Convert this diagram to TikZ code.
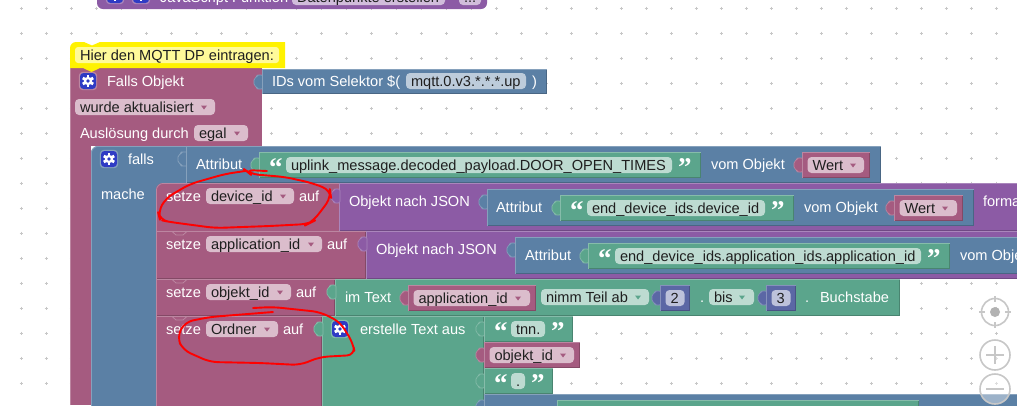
\documentclass[tikz,border=0pt]{standalone}
\usepackage{fontspec}
\setmainfont{Liberation Sans}
\newfontfamily\qfont{Liberation Serif}
\definecolor{pk}{HTML}{A55B80}\definecolor{pkL}{HTML}{BC86A1}\definecolor{pkD}{HTML}{844966}\definecolor{pkF}{HTML}{DBBDCC}
\definecolor{bl}{HTML}{5B80A5}\definecolor{blL}{HTML}{86A1BC}\definecolor{blD}{HTML}{496684}\definecolor{blF}{HTML}{BDCCDB}
\definecolor{gr}{HTML}{5BA58C}\definecolor{grL}{HTML}{86BCAA}\definecolor{grD}{HTML}{498470}\definecolor{grF}{HTML}{BDDBD1}
\definecolor{pu}{HTML}{8C5BA5}\definecolor{puL}{HTML}{AA86BC}\definecolor{puD}{HTML}{704984}\definecolor{puF}{HTML}{D1BDDB}
\definecolor{nu}{HTML}{5B67A5}\definecolor{nuL}{HTML}{8691BC}\definecolor{nuD}{HTML}{495284}\definecolor{nuF}{HTML}{BDC2DB}
\definecolor{gearblue}{HTML}{2F3BC4}
\newcounter{nn}
\tikzset{
  txt/.style={anchor=base west,inner sep=0pt,outer sep=0pt,font=\fontsize{14.6}{16}\selectfont},
  wtxt/.style={txt,text=white},
  dtxt/.style={txt,text=black!88},
  qt/.style={anchor=base west,inner sep=0pt,outer sep=0pt,text=white,font=\qfont\bfseries\fontsize{27}{27}\selectfont},
  scribble/.style={red,line width=1.9pt,line cap=round,line join=round,rounded corners=8pt},
}
\newcommand{\bk}[5]{%
  \fill[#1] (#2,#3) rectangle (#4,#5);
  \draw[#1D,line width=.7pt] (#4-.4,#3) -- (#4-.4,#5-.4) -- (#2,#5-.4);
  \draw[#1L,line width=.8pt] (#2+.4,#5) -- (#2+.4,#3+.4) -- (#4,#3+.4);
}
\newcommand{\tabpath}[2]{(#1+1,#2) -- (#1-5,#2) -- (#1-5,#2+2) -- (#1-8,#2+3.5) -- (#1-8,#2+10.5) -- (#1-5,#2+12) -- (#1-5,#2+14) -- (#1+1,#2+14)}
\newcommand{\tb}[3]{%
  \path[fill=#1,draw=#1L,line width=.6pt,rounded corners=1.5pt] \tabpath{#2}{#3} -- cycle;
}
\newcommand{\tbo}[3]{%
  \draw[#1,line width=.8pt,rounded corners=1.5pt] \tabpath{#2}{#3};
}
\newcommand{\tx}[4]{\stepcounter{nn}\node[#1] (t\thenn) at (#2,#3) {#4};}
\newcommand{\fld}[6]{%
  \fill[#1F,rounded corners=4pt] (#2,#3) rectangle (#4,#3+16);
  \tx{dtxt}{#2+5}{#3+13}{#5}
  \if\relax\detokenize{#6}\relax\else
    \fill[#1] (#6-3,#3+6.5) -- (#6+3,#3+6.5) -- (#6,#3+10.5) -- cycle;
  \fi
}
\newcommand{\gear}[3]{%
  \fill[#1L,rounded corners=4pt] (#2-9.2,#3-9.2) rectangle (#2+9.2,#3+9.2);
  \fill[gearblue,rounded corners=3.5pt] (#2-8,#3-8) rectangle (#2+8,#3+8);
  \fill[white] (#2,#3) circle (4.2);
  \foreach \a in {0,60,...,300}{\fill[white,rotate around={\a:(#2,#3)}] (#2-1.4,#3-6) rectangle (#2+1.4,#3-3);}
  \fill[gearblue] (#2,#3) circle (1.9);
}
\newcommand{\ql}[2]{\tx{qt}{#1}{#2}{“}}
\newcommand{\qr}[2]{\tx{qt}{#1}{#2}{”}}
\newcommand{\strb}[7]{%
  \tb{gr}{#1}{#2+6}
  \bk{gr}{#1}{#2}{#3}{#2+26}
  \ql{#1+10}{#2+24}
  \fld{gr}{#4}{#2+5}{#5}{#6}{}
  \qr{#7}{#2+24}
}
\newcommand{\varb}[5]{%
  \tb{pk}{#1}{#2+6}
  \bk{pk}{#1}{#2}{#3}{#2+26}
  \fld{pk}{#1+5.5}{#2+5}{#3-6}{#4}{#5}
}
\newcommand{\numb}[4]{%
  \tb{nu}{#1}{#2+6}
  \bk{nu}{#1}{#2}{#3}{#2+26}
  \fill[nuF,rounded corners=4pt] (#1+5.5,#2+5) rectangle (#3-5.5,#2+21);
  \tx{dtxt}{#1+10.5}{#2+18}{#4}
}
\newcommand{\notchmark}[1]{\draw[pkL,line width=.8pt] (172,#1+.4) -- (176,#1+4) -- (183,#1+4) -- (187,#1+.4);}
\begin{document}
\begin{tikzpicture}[x=1pt,y=-1pt]
\clip (0,0) rectangle (1017,405);
\fill[white] (0,0) rectangle (1017,405);
% grid
\foreach \gx in {21,46,...,1017}{\foreach \gy in {8,33,...,405}{
  \draw[black!22,line width=.7pt] (\gx-1.5,\gy) -- (\gx+1.5,\gy) (\gx,\gy-1.5) -- (\gx,\gy+1.5);
}}
% top block
\fill[pu,rounded corners=6pt] (97,-10) -- (97,9) -- (487,9) -- (487,-10) -- cycle;
\gear{pu}{115}{-5}
\gear{pu}{141}{-5}
\tx{wtxt}{160}{2}{JavaScript Funktion}
\fld{pu}{292}{-11}{445}{Datenpunkte erstellen}{}
\fld{pu}{459}{-11}{481}{...}{}
% main trigger block
\fill[pk] (70,68) rectangle (262,146);
\fill[pk] (70,146) rectangle (91,405);
\draw[pkL,line width=.8pt] (70.4,405) -- (70.4,68);
% comment
\fill[yellow] (70,48) to[out=90,in=180] (76,42) -- (84,42) -- (92,45.5) -- (100,42) -- (285,42) -- (285,68) -- (100,68) -- (91.5,72) -- (83,68) -- (70,68) -- cycle;
\fill[yellow!40!white,rounded corners=3pt] (75,47) rectangle (279,63);
\tx{dtxt}{80}{60}{Hier den MQTT DP eintragen:}
% trigger content
\gear{pk}{88}{81}
\tx{wtxt}{107}{86}{Falls Objekt}
\tb{bl}{262}{75}
\bk{bl}{262}{69}{547}{94}
\tx{wtxt}{272}{86}{IDs vom Selektor \$(}
\fld{bl}{406}{73}{526}{mqtt.0.v3.*.*.*.up}{}
\tx{wtxt}{532}{86}{)}
\fld{pk}{75}{99}{215}{wurde aktualisiert}{204}
\tx{wtxt}{80}{138}{Auslösung durch}
\fld{pk}{194}{125}{248}{egal}{237}
% falls block
\fill[bl,rounded corners=7pt] (91,430) -- (91,146) -- (200,146) -- (200,183) -- (156,183) -- (156,430) -- cycle;
\fill[bl] (150,146) rectangle (200,200);
\draw[blL,line width=.8pt,rounded corners=7pt] (91.4,430) -- (91.4,146.4) -- (186,146.4);
\gear{bl}{109}{159}
\tx{wtxt}{128}{164}{falls}
\bk{bl}{186}{146}{881}{183}
\tbo{blL}{186}{152}
\tx{wtxt}{196}{169}{Attribut}
\strb{259}{152}{701}{286}{672}{uplink\_message.decoded\_payload.DOOR\_OPEN\_TIMES}{678}
\tx{wtxt}{711}{169}{vom Objekt}
\varb{802}{152}{870}{Wert}{853}
\tx{wtxt}{101}{199}{mache}
% row 1
\fill[bl] (150,183) rectangle (156,240);
\path[fill=pk,rounded corners=7pt] (156,250) -- (156,183) -- (345,183) -- (345,250) -- cycle;
\draw[pkL,line width=.8pt,rounded corners=7pt] (156.4,232) -- (156.4,183.4) -- (339,183.4);
\bk{pu}{339}{183}{1024}{231}
\tb{pu}{339}{189}
\tx{wtxt}{166}{201}{setze}
\fld{pk}{206}{188}{294}{device\_id}{283}
\tx{wtxt}{299}{201}{auf}
\tx{wtxt}{349}{206}{Objekt nach JSON}
\tb{bl}{487}{195}
\bk{bl}{487}{189}{974}{226}
\tx{wtxt}{496}{212}{Attribut}
\strb{560}{195}{794}{587}{765}{end\_device\_ids.device\_id}{771}
\tx{wtxt}{804}{212}{vom Objekt}
\varb{894}{195}{963}{Wert}{945}
\tx{wtxt}{983}{206}{format}
% row 2
\bk{pk}{156}{231}{366}{279}
\bk{pu}{366}{231}{1024}{279}
\tb{pu}{366}{237}
\notchmark{231}
\tx{wtxt}{166}{249}{setze}
\fld{pk}{206}{236}{322}{application\_id}{311}
\tx{wtxt}{327}{249}{auf}
\tx{wtxt}{376}{254}{Objekt nach JSON}
\tb{bl}{515}{243}
\bk{bl}{515}{237}{1024}{274}
\tx{wtxt}{525}{260}{Attribut}
\strb{588}{243}{950}{615}{921}{end\_device\_ids.application\_ids.application\_id}{927}
\tx{wtxt}{960}{260}{vom Objekt}
% row 3
\bk{pk}{156}{279}{335}{316}
\bk{gr}{335}{279}{900}{316}
\tb{gr}{335}{285}
\notchmark{279}
\tx{wtxt}{166}{297}{setze}
\fld{pk}{206}{284}{291}{objekt\_id}{280}
\tx{wtxt}{296}{297}{auf}
\tx{wtxt}{345}{302}{im Text}
\varb{408}{285}{536}{application\_id}{518}
\fld{gr}{541}{289}{649}{nimm Teil ab}{638}
\numb{660}{285}{690}{2}
\tx{wtxt}{700}{302}{.}
\fld{gr}{709}{289}{754}{bis}{742}
\numb{766}{285}{796}{3}
\tx{wtxt}{805}{302}{.}
\tx{wtxt}{820}{302}{Buchstabe}
% row 4
\bk{pk}{156}{316}{322}{410}
\bk{gr}{322}{316}{484}{410}
\tb{gr}{322}{322}
\notchmark{316}
\tx{wtxt}{166}{334}{setze}
\fld{pk}{206}{321}{278}{Ordner}{267}
\tx{wtxt}{283}{334}{auf}
\gear{gr}{340}{329}
\tx{wtxt}{360}{334}{erstelle Text aus}
\strb{484}{316}{573}{511}{545}{tnn.}{551}
\varb{484}{342}{580}{objekt\_id}{563}
\strb{484}{368}{553}{511}{525}{.}{531}
\tb{bl}{484}{400}
\bk{bl}{484}{394}{1024}{431}
\bk{gr}{557}{400}{919}{426}
% red scribbles
\draw[scribble]
 (267,171) -- (245,170) -- (250,174) -- (285,177) -- (312,183) -- (330,190) -- (331,197) -- (322,210) -- (312,222) -- (308,224)
 -- (270,226) -- (215,228) -- (170,222) -- (160,220) -- (158,212) -- (166,198) -- (190,184) -- (225,174) -- (245,171);
\draw[scribble]
 (253,308) -- (273,307) -- (320,312) -- (340,322) -- (353,343) -- (355,355) -- (320,357) -- (300,365) -- (260,363) -- (210,362) -- (183,350) -- (177,337) -- (185,322) -- (210,317) -- (273,312);
% zoom controls
\begin{scope}[black!22,line width=1.6pt]
  \draw (995,312) circle (13.5);
  \fill[black!30] (995,312) circle (5);
  \draw (979,312) -- (985,312) (1005,312) -- (1011,312) (995,296) -- (995,302) (995,322) -- (995,328);
  \draw[fill=white,fill opacity=.4] (995,355) circle (15);
  \draw (986,355) -- (1004,355) (995,346) -- (995,364);
  \draw[fill=white,fill opacity=.4] (995,389) circle (15);
  \draw (986,389) -- (1004,389);
\end{scope}
\end{tikzpicture}
\end{document}
